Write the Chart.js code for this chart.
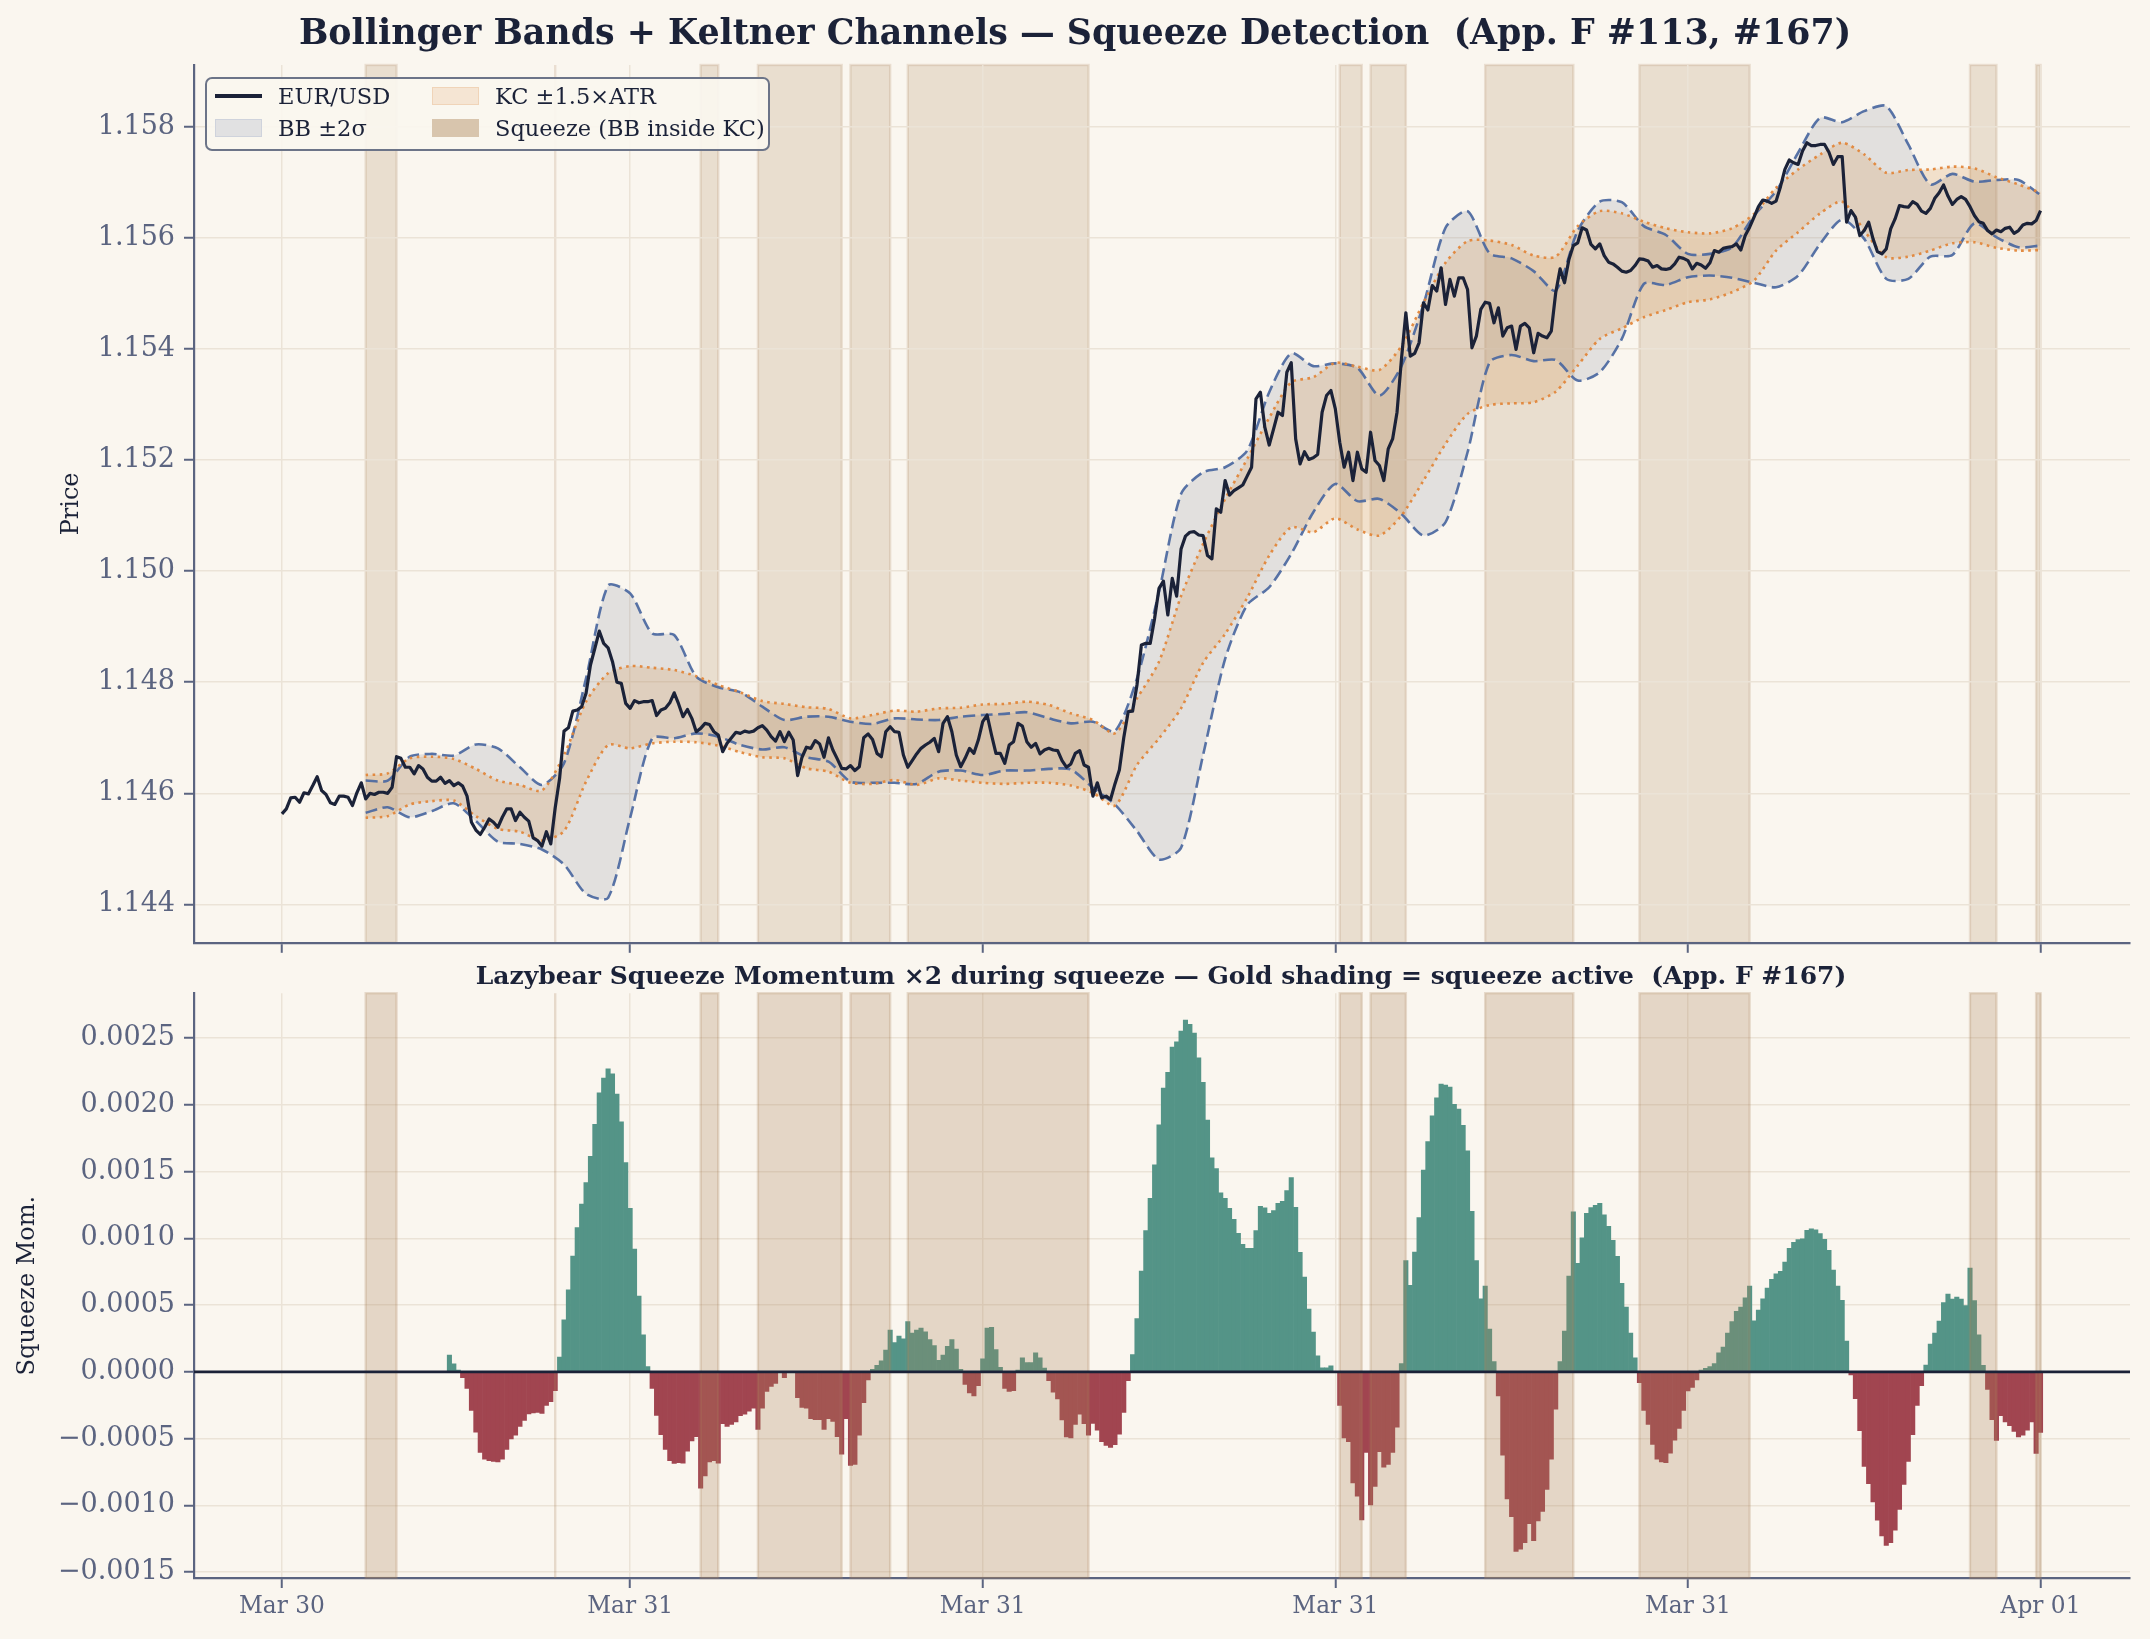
<!DOCTYPE html>
<html>
<head>
<meta charset="utf-8">
<script src="https://cdn.jsdelivr.net/npm/chart.js@4.4.1/dist/chart.umd.min.js"></script>
<style>
html,body{margin:0;padding:0;background:#faf6ef;}
#wrap{position:relative;width:2150px;height:1639px;overflow:hidden;font-family:"DejaVu Serif",serif;background:#faf6ef;}
canvas{position:absolute;left:0;}
.ttl{position:absolute;white-space:nowrap;color:#1b2238;font-weight:bold;transform:translate(-50%,-50%);line-height:1;}
#legend{position:absolute;left:205px;top:77px;width:561px;height:70px;border:2px solid rgba(92,101,124,0.9);border-radius:7px;background:rgba(250,246,239,0.92);}
.li{position:absolute;white-space:nowrap;font-size:22.5px;color:#1b2238;line-height:1;transform:translateY(-50%);}
.sw{position:absolute;box-sizing:border-box;}
</style>
</head>
<body>
<div id="wrap">
  <canvas id="top" width="2150" height="968" style="top:0"></canvas>
  <canvas id="bot" width="2150" height="671" style="top:968px"></canvas>
  <div class="ttl" style="left:1075px;top:32px;font-size:34.8px;">Bollinger Bands + Keltner Channels — Squeeze Detection&nbsp; (App. F #113, #167)</div>
  <div class="ttl" style="left:1161px;top:975px;font-size:25px;">Lazybear Squeeze Momentum ×2 during squeeze — Gold shading = squeeze active&nbsp; (App. F #167)</div>
  <div id="legend"></div>
</div>
<script>
// ---------------- DATA ----------------
const xTickIndex = [0, 79, 159, 239, 319, 399];
const xTickLabels = ['Mar 30', 'Mar 31', 'Mar 31', 'Mar 31', 'Mar 31', 'Apr 01'];
const priceTicks = [1.144, 1.146, 1.148, 1.150, 1.152, 1.154, 1.156, 1.158];
const momTicks = [-0.0015, -0.0010, -0.0005, 0.0000, 0.0005, 0.0010, 0.0015, 0.0020, 0.0025];
const zeroLevel = 0;

const price = [
1.14563,1.14572,1.14592,1.14593,1.14584,1.14601,1.14599,1.14614,1.14630,1.14605,
1.14598,1.14583,1.14580,1.14595,1.14595,1.14593,1.14578,1.14601,1.14619,1.14590,
1.14600,1.14598,1.14602,1.14602,1.14600,1.14611,1.14666,1.14663,1.14647,1.14647,
1.14635,1.14650,1.14644,1.14629,1.14622,1.14622,1.14629,1.14618,1.14623,1.14614,
1.14619,1.14613,1.14595,1.14548,1.14534,1.14526,1.14539,1.14554,1.14548,1.14539,
1.14557,1.14572,1.14572,1.14551,1.14566,1.14557,1.14550,1.14520,1.14515,1.14505,
1.14531,1.14509,1.14574,1.14627,1.14712,1.14718,1.14748,1.14750,1.14756,1.14780,
1.14831,1.14861,1.14892,1.14870,1.14862,1.14837,1.14800,1.14798,1.14762,1.14753,
1.14767,1.14763,1.14765,1.14765,1.14767,1.14740,1.14750,1.14753,1.14763,1.14781,
1.14761,1.14738,1.14751,1.14735,1.14711,1.14717,1.14726,1.14724,1.14711,1.14705,
1.14675,1.14690,1.14700,1.14710,1.14708,1.14712,1.14710,1.14712,1.14718,1.14722,
1.14714,1.14702,1.14694,1.14711,1.14693,1.14710,1.14696,1.14632,1.14665,1.14683,
1.14681,1.14695,1.14689,1.14665,1.14700,1.14678,1.14662,1.14645,1.14644,1.14650,
1.14641,1.14648,1.14700,1.14707,1.14697,1.14672,1.14666,1.14711,1.14720,1.14711,
1.14710,1.14669,1.14647,1.14659,1.14671,1.14681,1.14687,1.14692,1.14699,1.14675,
1.14726,1.14738,1.14711,1.14669,1.14648,1.14663,1.14681,1.14672,1.14696,1.14729,
1.14741,1.14705,1.14672,1.14672,1.14654,1.14687,1.14693,1.14726,1.14721,1.14693,
1.14683,1.14690,1.14671,1.14678,1.14681,1.14678,1.14677,1.14659,1.14647,1.14653,
1.14672,1.14677,1.14651,1.14647,1.14595,1.14619,1.14592,1.14595,1.14589,1.14617,
1.14642,1.14700,1.14747,1.14748,1.14795,1.14867,1.14870,1.14870,1.14915,1.14969,
1.14982,1.14921,1.14987,1.14955,1.15040,1.15063,1.15070,1.15071,1.15065,1.15064,
1.15028,1.15022,1.15112,1.15106,1.15163,1.15137,1.15145,1.15150,1.15155,1.15171,
1.15187,1.15310,1.15322,1.15259,1.15227,1.15256,1.15286,1.15280,1.15358,1.15375,
1.15238,1.15193,1.15215,1.15201,1.15204,1.15210,1.15286,1.15316,1.15325,1.15292,
1.15232,1.15187,1.15214,1.15163,1.15214,1.15184,1.15178,1.15250,1.15199,1.15190,
1.15163,1.15220,1.15238,1.15286,1.15381,1.15465,1.15387,1.15392,1.15411,1.15483,
1.15470,1.15514,1.15504,1.15546,1.15480,1.15525,1.15495,1.15528,1.15528,1.15507,
1.15402,1.15423,1.15471,1.15484,1.15482,1.15447,1.15474,1.15423,1.15438,1.15441,
1.15399,1.15441,1.15446,1.15438,1.15393,1.15428,1.15423,1.15420,1.15432,1.15501,
1.15544,1.15519,1.15561,1.15586,1.15591,1.15618,1.15614,1.15588,1.15580,1.15589,
1.15568,1.15556,1.15553,1.15547,1.15540,1.15538,1.15541,1.15550,1.15562,1.15561,
1.15558,1.15547,1.15550,1.15544,1.15543,1.15545,1.15553,1.15565,1.15563,1.15559,
1.15544,1.15554,1.15551,1.15545,1.15555,1.15577,1.15574,1.15581,1.15583,1.15584,
1.15589,1.15578,1.15604,1.15619,1.15637,1.15656,1.15668,1.15666,1.15662,1.15666,
1.15692,1.15723,1.15740,1.15735,1.15732,1.15756,1.15771,1.15766,1.15766,1.15768,
1.15768,1.15754,1.15732,1.15746,1.15746,1.15628,1.15649,1.15637,1.15604,1.15613,
1.15628,1.15598,1.15575,1.15571,1.15580,1.15616,1.15634,1.15658,1.15656,1.15655,
1.15665,1.15660,1.15648,1.15644,1.15653,1.15671,1.15681,1.15695,1.15675,1.15660,
1.15669,1.15674,1.15669,1.15656,1.15640,1.15629,1.15626,1.15613,1.15607,1.15614,
1.15611,1.15617,1.15619,1.15608,1.15613,1.15623,1.15626,1.15625,1.15631,1.15649];

const bandIndex = [19,24,29,34,39,44,49,54,59,64,69,74,79,84,89,94,99,104,109,114,119,124,129,134,139,144,149,154,159,164,169,174,179,184,189,194,199,204,209,214,219,224,229,234,239,244,249,254,259,264,269,274,279,284,289,294,299,304,309,314,319,324,329,334,339,344,349,354,359,364,369,374,379,384,389,394,399];

const bbUpper = [
1.14623,1.14623,1.14666,1.14671,1.14668,1.14688,1.14681,1.14647,1.14615,1.14654,
1.14807,1.14974,1.14960,1.14888,1.14885,1.14810,1.14791,1.14782,1.14756,1.14732,
1.14738,1.14738,1.14729,1.14725,1.14735,1.14733,1.14732,1.14738,1.14741,1.14743,
1.14746,1.14735,1.14726,1.14729,1.14712,1.14807,1.14963,1.15139,1.15178,1.15187,
1.15217,1.15322,1.15392,1.15369,1.15374,1.15366,1.15316,1.15369,1.15480,1.15618,
1.15648,1.15572,1.15563,1.15540,1.15505,1.15613,1.15665,1.15664,1.15621,1.15605,
1.15571,1.15571,1.15583,1.15640,1.15684,1.15753,1.15816,1.15808,1.15828,1.15837,
1.15768,1.15696,1.15715,1.15701,1.15704,1.15704,1.15677];
const bbLower = [
1.14565,1.14575,1.14557,1.14568,1.14582,1.14550,1.14513,1.14509,1.14499,1.14472,
1.14419,1.14412,1.14556,1.14699,1.14699,1.14708,1.14702,1.14687,1.14679,1.14683,
1.14665,1.14657,1.14621,1.14619,1.14619,1.14617,1.14639,1.14641,1.14633,1.14641,
1.14641,1.14644,1.14643,1.14610,1.14580,1.14532,1.14481,1.14502,1.14669,1.14842,
1.14939,1.14971,1.15031,1.15106,1.15157,1.15126,1.15130,1.15103,1.15064,1.15088,
1.15214,1.15376,1.15389,1.15378,1.15380,1.15343,1.15358,1.15418,1.15517,1.15515,
1.15529,1.15532,1.15528,1.15519,1.15511,1.15532,1.15589,1.15633,1.15598,1.15526,
1.15526,1.15566,1.15569,1.15626,1.15601,1.15583,1.15586];
const kcUpper = [
1.14633,1.14636,1.14663,1.14666,1.14662,1.14644,1.14623,1.14615,1.14605,1.14669,
1.14765,1.14816,1.14829,1.14826,1.14822,1.14811,1.14795,1.14782,1.14766,1.14761,
1.14755,1.14752,1.14735,1.14741,1.14749,1.14747,1.14753,1.14754,1.14760,1.14761,
1.14765,1.14759,1.14744,1.14732,1.14708,1.14771,1.14837,1.14955,1.15049,1.15130,
1.15202,1.15276,1.15340,1.15349,1.15375,1.15368,1.15362,1.15405,1.15483,1.15555,
1.15594,1.15595,1.15587,1.15568,1.15566,1.15621,1.15648,1.15644,1.15629,1.15617,
1.15610,1.15608,1.15617,1.15643,1.15690,1.15723,1.15750,1.15771,1.15750,1.15717,
1.15722,1.15723,1.15728,1.15725,1.15709,1.15696,1.15681];
const kcLower = [
1.14556,1.14559,1.14580,1.14586,1.14587,1.14559,1.14536,1.14531,1.14515,1.14532,
1.14621,1.14687,1.14681,1.14690,1.14693,1.14692,1.14686,1.14674,1.14665,1.14663,
1.14645,1.14639,1.14619,1.14617,1.14624,1.14615,1.14627,1.14623,1.14619,1.14617,
1.14619,1.14619,1.14614,1.14601,1.14578,1.14651,1.14699,1.14753,1.14835,1.14887,
1.14952,1.15028,1.15079,1.15070,1.15095,1.15075,1.15064,1.15100,1.15163,1.15229,
1.15283,1.15299,1.15302,1.15304,1.15323,1.15370,1.15418,1.15437,1.15457,1.15470,
1.15484,1.15489,1.15502,1.15523,1.15577,1.15610,1.15644,1.15665,1.15613,1.15565,
1.15566,1.15577,1.15590,1.15592,1.15582,1.15577,1.15578];

const momentum = [
null,null,null,null,null,null,null,null,null,null,
null,null,null,null,null,null,null,null,null,null,
null,null,null,null,null,null,null,null,null,null,
null,null,null,null,null,null,null,null,0.000126,0.000060,
0.000014,-0.000043,-0.000123,-0.000288,-0.000451,-0.000603,-0.000654,-0.000665,-0.000671,-0.000674,
-0.000654,-0.000580,-0.000503,-0.000474,-0.000408,-0.000363,-0.000314,-0.000308,-0.000303,-0.000311,
-0.000251,-0.000223,-0.000140,0.000111,0.000391,0.000614,0.000868,0.001082,0.001257,0.001419,
0.001614,0.001854,0.002091,0.002202,0.002271,0.002233,0.002082,0.001874,0.001568,0.001225,
0.000920,0.000568,0.000277,0.000040,-0.000123,-0.000326,-0.000471,-0.000580,-0.000665,-0.000685,
-0.000680,-0.000683,-0.000594,-0.000517,-0.000486,-0.000871,-0.000780,-0.000674,-0.000665,-0.000683,
-0.000388,-0.000408,-0.000394,-0.000374,-0.000328,-0.000317,-0.000294,-0.000271,-0.000431,-0.000271,
-0.000146,-0.000109,-0.000086,0,-0.000043,0,0,-0.000194,-0.000266,-0.000271,
-0.000351,-0.000357,-0.000357,-0.000431,-0.000351,-0.000371,-0.000486,-0.000617,-0.000351,-0.000700,
-0.000694,-0.000474,-0.000231,-0.000060,0.000020,0.000050,0.000083,0.000163,0.000314,0.000220,
0.000268,0.000248,0.000377,0.000291,0.000314,0.000328,0.000300,0.000243,0.000197,0.000086,
0.000126,0.000191,0.000243,0.000171,0.000020,-0.000094,-0.000157,-0.000180,-0.000103,0.000097,
0.000328,0.000334,0.000168,0.000034,-0.000123,-0.000146,-0.000140,0.000014,0.000106,0.000069,
0.000069,0.000143,0.000106,0.000029,-0.000066,-0.000151,-0.000203,-0.000360,-0.000488,-0.000494,
-0.000394,-0.000317,-0.000388,-0.000474,-0.000386,-0.000437,-0.000523,-0.000551,-0.000565,-0.000545,
-0.000466,-0.000303,-0.000066,0.000130,0.000399,0.000755,0.001059,0.001300,0.001551,0.001850,
0.002126,0.002245,0.002434,0.002472,0.002553,0.002636,0.002603,0.002539,0.002352,0.002170,
0.001887,0.001603,0.001524,0.001342,0.001300,0.001225,0.001143,0.001038,0.000956,0.000926,
0.000926,0.001059,0.001240,0.001230,0.001188,0.001208,0.001262,0.001277,0.001359,0.001456,
0.001233,0.000896,0.000710,0.000471,0.000299,0.000120,0.000031,0.000031,0.000046,0,
-0.000251,-0.000494,-0.000523,-0.000831,-0.000931,-0.001108,-0.000603,-0.000997,-0.000857,-0.000597,
-0.000714,-0.000694,-0.000603,-0.000414,0.000063,0.000834,0.000648,0.000897,0.001157,0.001511,
0.001725,0.001919,0.002053,0.002156,0.002148,0.002133,0.002005,0.001968,0.001848,0.001656,
0.001202,0.000834,0.000548,0.000643,0.000320,0.000077,-0.000180,-0.000623,-0.000951,-0.001085,
-0.001345,-0.001328,-0.001279,-0.001137,-0.001265,-0.001117,-0.001045,-0.000880,-0.000654,-0.000280,
0.000077,0.000306,0.000717,0.001200,0.000814,0.001005,0.001188,0.001231,0.001248,0.001262,
0.001177,0.001091,0.000985,0.000865,0.000663,0.000486,0.000291,0.000106,-0.000080,-0.000288,
-0.000394,-0.000543,-0.000654,-0.000674,-0.000680,-0.000608,-0.000511,-0.000423,-0.000288,-0.000143,
-0.000117,-0.000060,0.000014,0.000026,0.000040,0.000063,0.000143,0.000186,0.000291,0.000377,
0.000454,0.000486,0.000554,0.000643,0.000383,0.000463,0.000548,0.000628,0.000694,0.000734,
0.000754,0.000823,0.000925,0.000971,0.000991,0.000997,0.001060,0.001071,0.001065,0.001037,
0.000994,0.000911,0.000763,0.000643,0.000537,0.000231,-0.000023,-0.000200,-0.000440,-0.000708,
-0.000837,-0.000974,-0.001111,-0.001228,-0.001299,-0.001279,-0.001185,-0.001031,-0.000843,-0.000671,
-0.000471,-0.000251,-0.000103,0.000051,0.000208,0.000291,0.000380,0.000520,0.000583,0.000545,
0.000560,0.000545,0.000497,0.000777,0.000534,0.000277,0.000049,-0.000131,-0.000357,-0.000514,
-0.000328,-0.000374,-0.000403,-0.000446,-0.000488,-0.000474,-0.000437,-0.000374,-0.000611,-0.000454];

const squeezeSpans = [[19,26],[62,62],[95,99],[108,127],[129,138],[142,183],[240,245],[247,255],[273,293],[308,333],[383,389],[398,399]];

const legendItems = [
  {label:'EUR/USD', kind:'line', col:0, row:0},
  {label:'BB ±2σ', kind:'bb', col:0, row:1},
  {label:'KC ±1.5×ATR', kind:'kc', col:1, row:0},
  {label:'Squeeze (BB inside KC)', kind:'sq', col:1, row:1}
];

// ---------------- STYLE ----------------
const FONT = 'DejaVu Serif';
const C = {
  navy:'#1b2238', axis:'#5b6480', grid:'#ebe3d7',
  bbLine:'rgba(74,103,160,0.92)', bbFill:'rgba(150,155,166,0.24)',
  kcLine:'rgba(226,134,58,0.95)', kcFill:'rgba(212,140,62,0.20)',
  green:'#549487', red:'#a14550'
};
const X_MIN = -19.95, X_MAX = 419.3;

function spanPlugin(id, hook, faceA, edgeA) {
  return { id, [hook](chart) {
    const {ctx, chartArea, scales} = chart;
    const xs = scales.x;
    ctx.save();
    for (const [s, e] of squeezeSpans) {
      const x1 = xs.getPixelForValue(s), x2 = xs.getPixelForValue(e);
      ctx.fillStyle = `rgba(170,130,90,${faceA})`;
      ctx.fillRect(x1, chartArea.top, x2 - x1, chartArea.bottom - chartArea.top);
      ctx.strokeStyle = `rgba(170,130,90,${edgeA})`;
      ctx.lineWidth = 2.4;
      ctx.strokeRect(x1, chartArea.top, x2 - x1, chartArea.bottom - chartArea.top);
    }
    ctx.restore();
  }};
}
const zeroLinePlugin = { id:'zeroLine', afterDraw(chart) {
  const {ctx, chartArea, scales} = chart;
  const y = scales.y.getPixelForValue(zeroLevel);
  ctx.save(); ctx.strokeStyle = C.navy; ctx.lineWidth = 2.6;
  ctx.beginPath(); ctx.moveTo(chartArea.left, y); ctx.lineTo(chartArea.right, y); ctx.stroke(); ctx.restore();
}};

function xAxis(showLabels, h) {
  return {
    type:'linear', min:X_MIN, max:X_MAX, offset:false,
    afterBuildTicks: a => { a.ticks = xTickIndex.map(v => ({value:v})); },
    ticks:{display:showLabels, autoSkip:false, maxRotation:0, color:C.axis, font:{family:FONT, size:23.3}, padding:5,
      callback:(v, i) => xTickLabels[i]},
    grid:{offset:false, color:C.grid, lineWidth:1.5, drawTicks:true, tickLength:10, tickColor:C.axis, tickWidth:2},
    border:{display:true, color:C.axis, width:2.2},
    afterFit: s => { s.height = h; }
  };
}
function yAxis(min, max, tickVals, fmt, title, titlePad) {
  return {
    type:'linear', min, max,
    afterBuildTicks: a => { a.ticks = tickVals.map(v => ({value:v})); },
    ticks:{color:C.axis, font:{family:FONT, size:27}, padding:9, autoSkip:false, callback: v => fmt(v)},
    grid:{offset:false, color:C.grid, lineWidth:1.5, drawTicks:true, tickLength:10, tickColor:C.axis, tickWidth:2},
    border:{display:true, color:C.axis, width:2.2},
    title:{display:true, text:title, color:C.navy, font:{family:FONT, size:24}, padding:{top:titlePad, bottom:0}},
    afterFit: s => { s.width = 194; }
  };
}

// ---------------- TOP CHART ----------------
const pts = (xs, ys) => xs.map((x, k) => ({x, y: ys[k]}));
new Chart(document.getElementById('top'), {
  type:'line',
  data:{ datasets:[
    {label:'EUR/USD', data: price.map((v, i) => ({x:i, y:v})), borderColor:C.navy, borderWidth:3.2, pointRadius:0, fill:false, tension:0, borderJoinStyle:'round'},
    {label:'KC upper', data: pts(bandIndex, kcUpper), borderColor:C.kcLine, borderWidth:2.6, borderDash:[2.6,4.4], pointRadius:0, fill:false, tension:0.25},
    {label:'KC lower', data: pts(bandIndex, kcLower), borderColor:C.kcLine, borderWidth:2.6, borderDash:[2.6,4.4], pointRadius:0, fill:'-1', backgroundColor:C.kcFill, tension:0.25},
    {label:'BB upper', data: pts(bandIndex, bbUpper), borderColor:C.bbLine, borderWidth:2.6, borderDash:[12,5.5], pointRadius:0, fill:false, tension:0.25},
    {label:'BB lower', data: pts(bandIndex, bbLower), borderColor:C.bbLine, borderWidth:2.6, borderDash:[12,5.5], pointRadius:0, fill:'-1', backgroundColor:C.bbFill, tension:0.25}
  ]},
  options:{
    responsive:false, animation:false, devicePixelRatio:1,
    layout:{padding:{left:0, right:20, top:65, bottom:11}},
    plugins:{legend:{display:false}, tooltip:{enabled:false}, filler:{drawTime:'beforeDatasetsDraw', propagate:false}},
    scales:{
      x: xAxis(false, 12),
      y: yAxis(1.14331, 1.15911, priceTicks, v => v.toFixed(3), 'Price', 57)
    }
  },
  plugins:[spanPlugin('spansTop', 'beforeDraw', 0.21, 0.2)]
});

// ---------------- BOTTOM CHART ----------------
const momPts = momentum.map((v, i) => ({x:i, y:v})).filter(d => d.y !== null);
const xb = xAxis(true, 56); xb.z = 1;
const yb = yAxis(-0.001544, 0.002837, momTicks, v => (v < 0 ? '\u2212' : '') + Math.abs(v).toFixed(4), 'Squeeze Mom.', 13); yb.z = 1;
new Chart(document.getElementById('bot'), {
  type:'bar',
  data:{ datasets:[{
    label:'Squeeze Momentum', data: momPts,
    backgroundColor: momPts.map(d => d.y >= 0 ? C.green : C.red),
    borderWidth:0, barPercentage:1, categoryPercentage:1
  }]},
  options:{
    responsive:false, animation:false, devicePixelRatio:1,
    layout:{padding:{left:0, right:20, top:22, bottom:5}},
    plugins:{legend:{display:false}, tooltip:{enabled:false}},
    scales:{ x: xb, y: yb }
  },
  plugins:[spanPlugin('spansBot', 'afterDatasetsDraw', 0.27, 0.25), zeroLinePlugin]
});

// ---------------- LEGEND (HTML) ----------------
const lg = document.getElementById('legend');
const colX = [8, 225], rowY = [17, 49];
legendItems.forEach(it => {
  const hx = colX[it.col], cy = rowY[it.row];
  const sw = document.createElement('div'); sw.className = 'sw';
  if (it.kind === 'line') {
    Object.assign(sw.style, {left:hx+'px', top:(cy-1.6)+'px', width:'47px', height:'3.2px', background:C.navy});
  } else {
    const st = {left:hx+'px', top:(cy-9)+'px', width:'47px', height:'18px'};
    if (it.kind === 'bb') Object.assign(st, {background:'#e1e1e2', border:'1.5px solid #cfd3dc'});
    if (it.kind === 'kc') Object.assign(st, {background:'#f5e5d3', border:'1.5px solid #f0d4b8'});
    if (it.kind === 'sq') Object.assign(st, {background:'#d8c5ad'});
    Object.assign(sw.style, st);
  }
  lg.appendChild(sw);
  const t = document.createElement('div'); t.className = 'li';
  t.textContent = it.label;
  t.style.left = (hx + 63) + 'px'; t.style.top = cy + 'px';
  lg.appendChild(t);
});
</script>
</body>
</html>
